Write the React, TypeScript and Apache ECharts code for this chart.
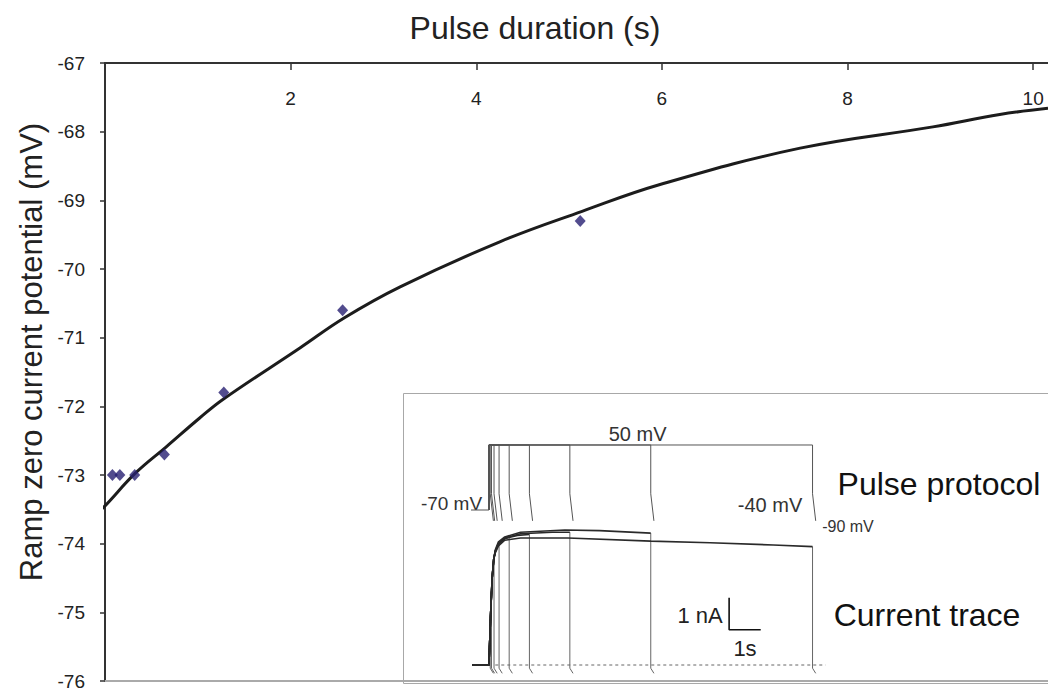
import React, { useEffect, useRef } from "react";
import * as echarts from "echarts";

// ---- Main chart data ----
const pointDurations = [0.08, 0.16, 0.32, 0.64, 1.28, 2.56, 5.12];
const pointPotentials = [-73, -73, -73, -72.7, -71.8, -70.6, -69.3];
const fitDurations = [-0.05, 0, 0.33, 0.66, 1.02, 1.27, 2.1, 2.58, 3.18, 4.26, 5.14, 5.98, 7.49, 8.92, 9.64, 10.16];
const fitPotentials = [-73.51, -73.45, -72.97, -72.59, -72.17, -71.9, -71.15, -70.71, -70.26, -69.6, -69.16, -68.77, -68.24, -67.93, -67.75, -67.66];
const xTickLabels = [2, 4, 6, 8, 10];
const yTickLabels = [-67, -68, -69, -70, -71, -72, -73, -74, -75, -76];

// ---- Inset data ----
const pulseDurations = [0.04, 0.08, 0.16, 0.32, 0.64, 1.28, 2.56, 5.12, 10.24];
const holdingSegment = [[-0.57, -70], [0, -70]];
const pulseLevels = [-70, 50, -40, -90]; // holding, pulse, step, ramp end (mV)
const rampDuration = 0.1;
const currentTraces = [
  [[-0.53, 0], [0, 0], [0.04, 1.2]],
  [[-0.53, 0], [0, 0], [0.05, 1.5], [0.08, 2.3]],
  [[-0.53, 0], [0, 0], [0.05, 1.5], [0.1, 2.7], [0.16, 3.35]],
  [[-0.53, 0], [0, 0], [0.05, 1.5], [0.1, 2.7], [0.15, 3.3], [0.2, 3.55], [0.32, 3.8]],
  [[-0.53, 0], [0, 0], [0.05, 1.5], [0.1, 2.7], [0.15, 3.3], [0.2, 3.55], [0.3, 3.78], [0.5, 3.95], [0.64, 4.0]],
  [[-0.53, 0], [0, 0], [0.05, 1.5], [0.1, 2.7], [0.15, 3.3], [0.2, 3.55], [0.3, 3.78], [0.5, 3.95], [0.9, 4.05], [1.28, 4.08]],
  [[-0.53, 0], [0, 0], [0.05, 1.5], [0.1, 2.7], [0.15, 3.3], [0.2, 3.55], [0.3, 3.8], [0.5, 3.97], [1.0, 4.1], [2.0, 4.15], [2.56, 4.15]],
  [[-0.53, 0], [0, 0], [0.05, 1.5], [0.1, 2.7], [0.15, 3.3], [0.2, 3.6], [0.3, 3.85], [0.5, 4.0], [1.0, 4.15], [2.4, 4.22], [3.5, 4.2], [5.12, 4.12]],
  [[-0.53, 0], [0, 0], [0.05, 1.5], [0.1, 2.7], [0.15, 3.3], [0.2, 3.5], [0.3, 3.72], [0.5, 3.9], [1.0, 3.97], [2.5, 3.97], [5.12, 3.87], [7.0, 3.82], [9.0, 3.75], [10.24, 3.7]],
];
const tailCurrent = -0.26;
const zeroLine = [[0.2, 0], [10.65, 0]];
const scaleBar = [[7.6, 2.1], [7.6, 1.1], [8.6, 1.1]];

const FONT = '"Liberation Sans", Arial, Helvetica, sans-serif';

export default function App() {
  const ref = useRef<HTMLDivElement>(null);
  useEffect(() => {
    if (!ref.current) return;
    const chart = echarts.init(ref.current, null, { renderer: "svg" });

    const lineBase = { type: "line", showSymbol: false, symbol: "none", silent: true };

    const protoSeries = pulseDurations.map((d) => ({
      ...lineBase,
      xAxisIndex: 2,
      yAxisIndex: 1,
      data: [
        [0, pulseLevels[0]],
        [0, pulseLevels[1]],
        [d, pulseLevels[1]],
        [d, pulseLevels[2]],
        [d + rampDuration, pulseLevels[3]],
      ],
      lineStyle: { color: "#555", width: 1 },
    }));

    const traceSeries = currentTraces.map((tr) => ({
      ...lineBase,
      xAxisIndex: 3,
      yAxisIndex: 2,
      data: tr,
      lineStyle: { color: "#2a2a2a", width: 1.6 },
    }));

    const dropSeries = currentTraces.map((tr, i) => {
      const last = tr[tr.length - 1];
      const d = pulseDurations[i];
      return {
        ...lineBase,
        xAxisIndex: 3,
        yAxisIndex: 2,
        data: [
          [d, last[1]],
          [d, -0.1],
          [d + rampDuration, tailCurrent],
        ],
        lineStyle: { color: "#666", width: 1 },
      };
    });

    const option: any = {
      animation: false,
      backgroundColor: "#fff",
      textStyle: { fontFamily: FONT },
      grid: [
        { left: 105, top: 63, right: 0, bottom: 12, outerBoundsMode: "none", containLabel: false },
        { left: 470, top: 417.9, width: 366.56, height: 119.2, outerBoundsMode: "none", containLabel: false },
        { left: 470, top: 505, width: 366.56, height: 179.2, outerBoundsMode: "none", containLabel: false },
      ],
      xAxis: [
        {
          type: "value",
          gridIndex: 0,
          position: "top",
          min: 0,
          max: 10.16,
          interval: 2,
          axisLine: { show: true, onZero: false, lineStyle: { color: "#333", width: 2 } },
          axisTick: { show: true, inside: true, length: 7, lineStyle: { color: "#333", width: 1.5 } },
          axisLabel: {
            show: true,
            inside: true,
            margin: 26,
            fontSize: 19,
            color: "#222",
            fontFamily: FONT,
            showMinLabel: false,
            showMaxLabel: false,
            formatter: (v: number) => (xTickLabels.includes(v) ? String(v) : ""),
          },
          splitLine: { show: false },
        },
        {
          type: "value",
          gridIndex: 0,
          position: "bottom",
          min: 0,
          max: 10.16,
          axisLine: { show: true, onZero: false, lineStyle: { color: "#aaa", width: 2 } },
          axisTick: { show: false },
          axisLabel: { show: false },
          splitLine: { show: false },
        },
        { type: "value", gridIndex: 1, min: -0.6, max: 11, show: false, splitLine: { show: false } },
        { type: "value", gridIndex: 2, min: -0.6, max: 11, show: false, splitLine: { show: false } },
      ],
      yAxis: [
        {
          type: "value",
          gridIndex: 0,
          min: -76,
          max: -67,
          interval: 1,
          axisLine: { show: true, onZero: false, lineStyle: { color: "#333", width: 2 } },
          axisTick: { show: true, inside: false, length: 5, lineStyle: { color: "#333", width: 1.5 } },
          axisLabel: {
            show: true,
            margin: 20,
            fontSize: 19,
            color: "#222",
            fontFamily: FONT,
            formatter: (v: number) => (yTickLabels.includes(v) ? String(v) : ""),
          },
          splitLine: { show: false },
        },
        { type: "value", gridIndex: 1, min: -120, max: 100, show: false, splitLine: { show: false } },
        { type: "value", gridIndex: 2, min: -0.6, max: 5, show: false, splitLine: { show: false } },
      ],
      graphic: [
        {
          type: "text",
          x: 535,
          y: 28,
          style: { text: "Pulse duration (s)", font: `32px ${FONT}`, fill: "#222", align: "center", verticalAlign: "middle" },
        },
        {
          type: "text",
          x: 31,
          y: 352,
          rotation: Math.PI / 2,
          style: { text: "Ramp zero current potential (mV)", font: `31px ${FONT}`, fill: "#222", align: "center", verticalAlign: "middle" },
        },
        {
          type: "rect",
          shape: { x: 403.5, y: 393.5, width: 700, height: 290 },
          style: { fill: "none", stroke: "#a8a8a8", lineWidth: 1 },
          z: 1,
        },
        { type: "text", x: 637.6, y: 433.5, style: { text: "50 mV", font: `20px ${FONT}`, fill: "#333", align: "center", verticalAlign: "middle" } },
        { type: "text", x: 451.5, y: 503, style: { text: "-70 mV", font: `19px ${FONT}`, fill: "#333", align: "center", verticalAlign: "middle" } },
        { type: "text", x: 770, y: 505, style: { text: "-40 mV", font: `20px ${FONT}`, fill: "#333", align: "center", verticalAlign: "middle" } },
        { type: "text", x: 848, y: 526, style: { text: "-90 mV", font: `16px ${FONT}`, fill: "#333", align: "center", verticalAlign: "middle" } },
        { type: "text", x: 939, y: 483.5, style: { text: "Pulse protocol", font: `32px ${FONT}`, fill: "#111", align: "center", verticalAlign: "middle" } },
        { type: "text", x: 927, y: 615, style: { text: "Current trace", font: `32px ${FONT}`, fill: "#111", align: "center", verticalAlign: "middle" } },
        { type: "text", x: 700, y: 615, style: { text: "1 nA", font: `22px ${FONT}`, fill: "#222", align: "center", verticalAlign: "middle" } },
        { type: "text", x: 745, y: 648, style: { text: "1s", font: `22px ${FONT}`, fill: "#222", align: "center", verticalAlign: "middle" } },
      ],
      series: [
        {
          type: "line",
          xAxisIndex: 0,
          yAxisIndex: 0,
          data: fitDurations.map((t, i) => [t, fitPotentials[i]]),
          showSymbol: false,
          symbol: "none",
          smooth: 0.4,
          clip: false,
          silent: true,
          lineStyle: { color: "#1c1c1c", width: 3 },
          z: 3,
        },
        {
          type: "scatter",
          xAxisIndex: 0,
          yAxisIndex: 0,
          data: pointDurations.map((t, i) => [t, pointPotentials[i]]),
          symbol: "diamond",
          symbolSize: [11, 12],
          itemStyle: { color: "#271f72" },
          silent: true,
          z: 4,
        },
        {
          ...lineBase,
          xAxisIndex: 2,
          yAxisIndex: 1,
          data: holdingSegment,
          lineStyle: { color: "#555", width: 1.2 },
        },
        ...protoSeries,
        ...dropSeries,
        ...traceSeries,
        {
          ...lineBase,
          xAxisIndex: 3,
          yAxisIndex: 2,
          data: zeroLine,
          lineStyle: { color: "#666", width: 1, type: [3, 3] },
        },
        {
          ...lineBase,
          xAxisIndex: 3,
          yAxisIndex: 2,
          data: scaleBar,
          lineStyle: { color: "#111", width: 1.6 },
        },
      ],
    };

    chart.setOption(option);
    return () => chart.dispose();
  }, []);

  return (
    <div
      ref={ref}
      style={{ position: "absolute", left: 0, top: 0, width: 1048, height: 693, background: "#fff" }}
    />
  );
}
